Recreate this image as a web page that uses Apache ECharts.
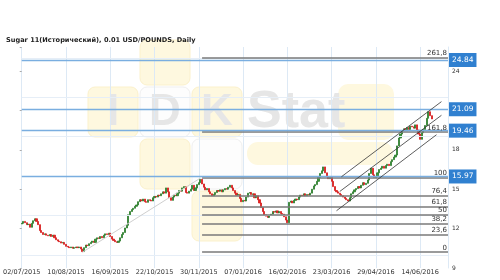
<!DOCTYPE html>
<html>
<head>
<meta charset="utf-8">
<script src="https://cdn.jsdelivr.net/npm/echarts@6/dist/echarts.min.js"></script>
<style>html,body{margin:0;padding:0;background:#fff;}#c{width:500px;height:280px;}</style>
</head>
<body>
<div id="c"></div>
<script>
const titleText = 'Sugar 11(Исторический), 0.01 USD/POUNDS, Daily';
const tickLabels = ['02/07/2015','10/08/2015','16/09/2015','22/10/2015','30/11/2015','07/01/2016','16/02/2016','23/03/2016','29/04/2016','14/06/2016'];
const tickStep = 27;
const categoryCount = 261;
const firstOpen = 12.35;
const closes = [
12.40,12.55,12.45,12.30,12.35,12.10,12.40,12.60,12.75,12.55,
12.30,11.85,11.70,11.55,11.60,11.50,11.45,11.55,11.40,11.50,
11.30,11.15,11.05,11.00,10.90,10.95,10.80,10.65,10.60,10.55,
10.60,10.50,10.55,10.60,10.55,10.60,10.45,10.25,10.55,10.75,
10.70,10.85,10.95,11.05,10.95,11.20,11.30,11.25,11.40,11.30,
11.50,11.60,11.55,11.65,11.40,11.20,11.10,11.00,10.95,11.05,
11.30,11.55,11.70,12.05,12.25,13.05,13.30,13.45,13.55,13.70,
13.80,14.05,14.20,14.10,14.25,14.05,14.00,14.20,14.15,14.10,
14.35,14.45,14.40,14.55,14.50,14.65,14.80,14.70,15.10,14.80,
14.35,14.15,14.40,14.55,14.50,14.70,14.90,14.85,15.10,15.20,
14.75,14.70,14.85,15.00,15.30,14.90,15.10,15.35,15.50,15.75,
15.40,15.15,14.95,15.05,14.80,14.65,14.50,14.60,14.75,14.90,
14.85,14.95,14.80,14.95,15.05,15.00,15.15,15.30,15.10,14.90,
14.70,14.55,14.60,14.30,14.05,14.15,14.10,14.40,14.70,14.75,
14.60,14.65,14.35,14.50,14.20,13.95,13.60,13.30,13.05,12.95,
12.85,13.00,13.10,13.30,13.25,13.35,13.20,13.30,13.15,13.10,
12.90,12.65,12.45,14.00,14.10,13.95,14.15,14.25,14.20,14.40,
14.55,14.50,14.65,14.50,14.60,14.55,14.70,15.00,15.25,15.35,
15.60,15.90,16.20,16.40,16.70,16.25,15.95,15.80,15.90,15.60,
15.20,14.90,14.80,14.70,14.60,14.50,14.40,14.30,14.20,14.10,
14.35,14.65,14.80,14.95,15.05,15.20,15.10,15.30,15.50,15.35,
15.45,15.70,16.20,16.60,16.10,15.90,15.95,16.25,16.50,16.60,
16.75,16.60,16.80,16.90,16.80,17.10,17.25,17.45,17.60,18.30,
18.90,19.20,19.45,19.60,19.45,19.70,19.55,19.80,19.75,19.65,
19.90,19.50,19.20,18.80,19.30,19.55,19.85,20.40,20.90,20.60,
20.35
];
// horizontal price levels (blue, with value boxes)
const priceLevels = [24.84, 21.09, 19.46, 15.97];
// fibonacci levels
const fibLabels = ['0','23,6','38,2','50','61,8','76,4','100','161,8','261,8'];
const fibValues = [10.20, 11.53, 12.36, 13.03, 13.69, 14.52, 15.85, 19.34, 24.99];
const fibStartIndex = 110;
const fibAnchorLow = [37, 10.20];
const fibAnchorHigh = [109, 15.85];
// channel lines [startIndex, startValue, endIndex, endValue]
const channelLines = [
  [195, 15.95, 256, 21.67],
  [194, 14.83, 256, 20.63],
  [192, 13.36, 253, 19.15]
];
const gridValues = [10, 13, 16, 19, 22, 25];
const yMin = 9, yMax = 25.83, yStep = 3;

const categories = Array.from({length: categoryCount}, (_, i) => String(i));
const candleData = closes.map((c, i) => {
  const o = i === 0 ? firstOpen : closes[i - 1];
  return [o, c, Math.min(o, c), Math.max(o, c)];
});

const yellow = '#fef8df';
const wmStroke = '#fbf1cc';
const letterColor = '#e6e6e6';
const wmGraphic = [
  {type:'rect', z:-10, shape:{x:140,y:40,width:50,height:45,r:7}, style:{fill:yellow, stroke:wmStroke}},
  {type:'rect', z:-10, shape:{x:88,y:87,width:50,height:50,r:7}, style:{fill:yellow, stroke:wmStroke}},
  {type:'rect', z:-10, shape:{x:140,y:87,width:50,height:50,r:7}, style:{fill:'#fdfdfd', stroke:'#efefef'}},
  {type:'rect', z:-10, shape:{x:192,y:87,width:50,height:50,r:7}, style:{fill:yellow, stroke:wmStroke}},
  {type:'rect', z:-10, shape:{x:140,y:139,width:50,height:50,r:7}, style:{fill:yellow, stroke:wmStroke}},
  {type:'rect', z:-10, shape:{x:192,y:139,width:50,height:50,r:7}, style:{fill:'#fdfdfd', stroke:'#efefef'}},
  {type:'rect', z:-10, shape:{x:192,y:191,width:50,height:50,r:7}, style:{fill:yellow, stroke:wmStroke}},
  {type:'rect', z:-10, shape:{x:338,y:84,width:56,height:56,r:10}, style:{fill:yellow}},
  {type:'rect', z:-10, shape:{x:247,y:142,width:146,height:23,r:11}, style:{fill:yellow}},
  {type:'text', z:-9, style:{text:'I', x:113, y:113, font:'bold 44px "Liberation Sans"', fill:letterColor, textAlign:'center', textVerticalAlign:'middle'}},
  {type:'text', z:-9, style:{text:'D', x:165, y:113, font:'bold 44px "Liberation Sans"', fill:letterColor, textAlign:'center', textVerticalAlign:'middle'}},
  {type:'text', z:-9, style:{text:'K', x:217, y:113, font:'bold 44px "Liberation Sans"', fill:letterColor, textAlign:'center', textVerticalAlign:'middle'}},
  {type:'text', z:-9, style:{text:'Stat', x:247, y:113, font:'bold 52px "Liberation Sans"', fill:letterColor, textAlign:'left', textVerticalAlign:'middle'}}
];

const txtFont = 'DejaVu Sans';
const markLineData = [];
gridValues.forEach(v => markLineData.push({yAxis: v, lineStyle:{color:'#e6eef7', width:1, type:'solid'}, label:{show:false}}));
fibValues.forEach((v, k) => markLineData.push([
  {coord:[fibStartIndex, v], lineStyle:{color:'#7a7a7a', width:1.5, type:'solid'},
   label:{show:true, position:'insideEndTop', formatter: fibLabels[k], color:'#333', fontSize:7, fontFamily:txtFont, distance:1}},
  {coord:[categoryCount - 1, v]}
]));
priceLevels.forEach(v => markLineData.push({yAxis: v, lineStyle:{color:'#7aaee0', width:1.3, type:'solid'},
  label:{show:true, position:'end', formatter: v.toFixed(2), color:'#fff', backgroundColor:'#3080d0',
         padding:[3,3,3,3], fontSize:7.5, fontFamily:txtFont, distance:1}}));
markLineData.push([
  {coord: fibAnchorLow, lineStyle:{color:'#cfcfcf', width:1, type:'solid'}, label:{show:false}},
  {coord: fibAnchorHigh}
]);
channelLines.forEach(c => markLineData.push([
  {coord:[c[0], c[1]], lineStyle:{color:'#333', width:0.8, type:'solid'}, label:{show:false}},
  {coord:[c[2], c[3]]}
]));

const chart = echarts.init(document.getElementById('c'), null, {renderer:'canvas'});
chart.setOption({
  animation: false,
  backgroundColor: '#fff',
  title: {text: titleText, left: 1, top: 32, textStyle:{fontSize:6.6, fontWeight:'bold', color:'#222', fontFamily:txtFont}},
  graphic: wmGraphic,
  grid: {left: 18, right: 52, top: 47, bottom: 12},
  xAxis: {
    type: 'category', data: categories, boundaryGap: false,
    axisLine: {show: false}, axisTick: {show: false},
    axisLabel: {interval: tickStep - 1, margin: 1, color:'#333', fontSize:6.5, fontFamily:txtFont,
      formatter: (v, idx) => tickLabels[idx / tickStep] || ''},
    splitLine: {show: true, interval: tickStep - 1, lineStyle:{color:'#dde9f5', width:1}}
  },
  yAxis: [{
    type: 'value', position: 'right', min: yMin, max: yMax, interval: yStep,
    axisLine: {show: true, lineStyle:{color:'#dde9f5'}}, axisTick: {show: false},
    axisLabel: {margin: 4, color:'#333', fontSize:6, fontFamily:txtFont, showMaxLabel:false},
    splitLine: {show: false}
  }, {
    type: 'value', position: 'left', min: yMin, max: yMax, interval: yStep,
    axisLine: {show: false}, axisTick: {show: true, length: 2, lineStyle:{color:'#aaa'}},
    axisLabel: {show: false}, splitLine: {show: false}
  }],
  series: [{
    type: 'line', data: [], silent: true, z: 1,
    markLine: {silent: true, symbol: ['none','none'], animation:false, data: markLineData}
  }, {
    type: 'candlestick', data: candleData, barWidth: 1.6, z: 3,
    itemStyle: {color:'#3a9a3a', color0:'#ee2222', borderColor:'#2a7a2a', borderColor0:'#d41a1a', borderWidth: 0.8}
  }]
});
</script>
</body>
</html>
